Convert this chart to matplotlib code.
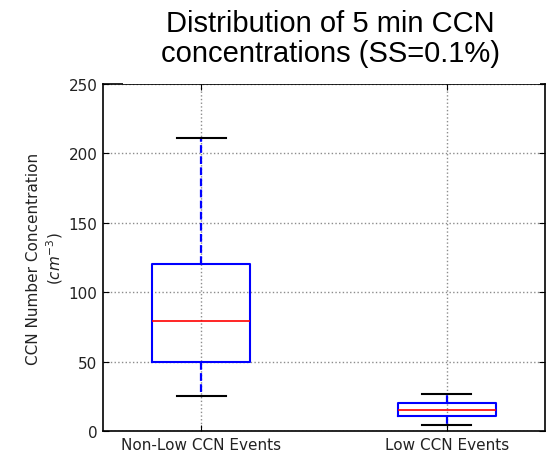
import matplotlib
matplotlib.use("Agg")
import matplotlib.pyplot as plt
from matplotlib.patches import Rectangle

# 5 min CCN concentrations, box summary per event class
labels = ["Non-Low CCN Events", "Low CCN Events"]
whislo = [25, 4.5]
q1 = [50, 10.5]
med = [79, 15]
q3 = [120, 20]
whishi = [211, 26.5]

stats = []
for i in range(len(labels)):
    stats.append({"label": labels[i], "whislo": whislo[i], "q1": q1[i],
                  "med": med[i], "q3": q3[i], "whishi": whishi[i], "fliers": []})

fig = plt.figure(figsize=(5.51, 4.56), dpi=100)
ax = fig.add_axes([103/551, 24/456, 442/551, 347/456])

ax.bxp(stats, positions=[1, 2], widths=0.4, showfliers=False,
       boxprops=dict(color="#0000ff", linewidth=1.5),
       medianprops=dict(color="#ff0000", linewidth=1.2),
       whiskerprops=dict(color="#0000ff", linewidth=1.6, linestyle=(0, (3.5, 1.5))),
       capprops=dict(color="k", linewidth=1.5))

ax.set_xlim(0.6, 2.4)
ax.set_ylim(0, 250)
ax.set_yticks([0, 50, 100, 150, 200, 250])
ax.grid(True, color="0.55", linestyle=":", linewidth=1)
ax.set_axisbelow(True)
ax.tick_params(direction="in", length=4, top=True, right=True, labelsize=11,
               colors="k", labelcolor="#222222", pad=4)
for s in ax.spines.values():
    s.set_linewidth(1.2)

ax.set_ylabel("CCN Number Concentration\n($cm^{-3}$)", fontsize=11,
              linespacing=1.2, color="#222222")
ax.yaxis.set_label_coords(-0.085, 0.5)

# white panel behind the title, over the top spine
fig.add_artist(Rectangle((123/551, 371/456), 417/551, 85/456,
                         transform=fig.transFigure, facecolor="white",
                         edgecolor="none", zorder=5))
fig.text(0.60, 0.915, "Distribution of 5 min CCN\nconcentrations (SS=0.1%)",
         ha="center", va="center", fontsize=21, linespacing=1.1,
         family=["Liberation Sans"], zorder=6)

fig.savefig("out.png", dpi=100)
